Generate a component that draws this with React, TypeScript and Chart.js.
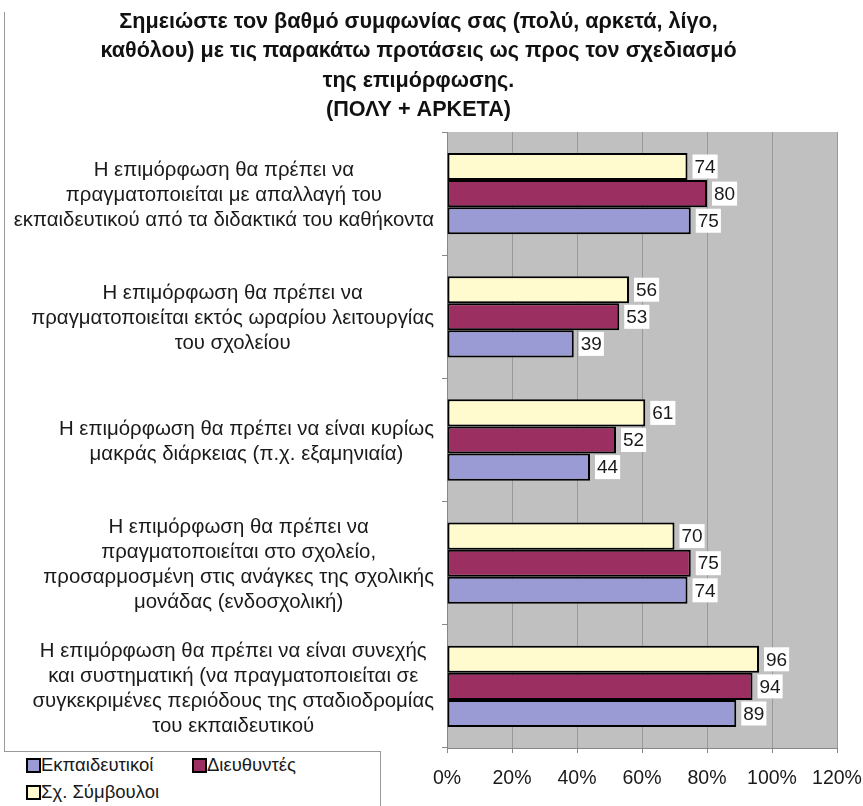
import React, { useEffect, useRef } from "react";
import { Chart, registerables } from "chart.js";

Chart.register(...registerables);

const TITLE_LINES = [
  "Σημειώστε τον βαθμό συμφωνίας σας (πολύ, αρκετά, λίγο,",
  "καθόλου) με τις παρακάτω προτάσεις ως προς τον σχεδιασμό",
  "της επιμόρφωσης.",
  "(ΠΟΛΥ + ΑΡΚΕΤΑ)",
];

const CATEGORIES: string[][] = [
  ["Η επιμόρφωση θα πρέπει να", "πραγματοποιείται με απαλλαγή του", "εκπαιδευτικού από τα διδακτικά του καθήκοντα"],
  ["Η επιμόρφωση θα πρέπει να", "πραγματοποιείται εκτός ωραρίου λειτουργίας", "του σχολείου"],
  ["Η επιμόρφωση θα πρέπει να είναι κυρίως", "μακράς διάρκειας (π.χ. εξαμηνιαία)"],
  ["Η επιμόρφωση θα πρέπει να", "πραγματοποιείται στο σχολείο,", "προσαρμοσμένη στις ανάγκες της σχολικής", "μονάδας (ενδοσχολική)"],
  ["Η επιμόρφωση θα πρέπει να είναι συνεχής", "και συστηματική (να πραγματοποιείται σε", "συγκεκριμένες περιόδους της σταδιοδρομίας", "του εκπαιδευτικού"],
];

const SERIES_NAMES = ["Εκπαιδευτικοί", "Διευθυντές", "Σχ. Σύμβουλοι"];
const TEACHERS = [75, 39, 44, 74, 89];
const PRINCIPALS = [80, 53, 52, 75, 94];
const ADVISORS = [74, 56, 61, 70, 96];
const X_TICKS = [0, 20, 40, 60, 80, 100, 120];

const COLORS = ["#9A9AD4", "#9B2F62", "#FFFBCF"];
const FONT = "'Liberation Sans', Arial, sans-serif";

const bgPlugin = {
  id: "plotBg",
  beforeDraw(chart: any) {
    const { ctx, chartArea } = chart;
    ctx.save();
    ctx.fillStyle = "#C0C0C0";
    ctx.fillRect(chartArea.left, chartArea.top, chartArea.right - chartArea.left, chartArea.bottom - chartArea.top);
    ctx.restore();
  },
};

const catLabelPlugin = {
  id: "catLabels",
  afterDraw(chart: any) {
    const { ctx } = chart;
    const y = chart.scales.y;
    ctx.save();
    ctx.font = `20.4px ${FONT}`;
    ctx.fillStyle = "#1a1a1a";
    ctx.textAlign = "center";
    ctx.textBaseline = "middle";
    const lh = 25;
    CATEGORIES.forEach((lines, i) => {
      const yc = y.getPixelForValue(i);
      const bw = Math.max(...lines.map((l) => ctx.measureText(l).width));
      const cx = 434 - bw / 2;
      const y0 = yc - ((lines.length - 1) * lh) / 2;
      lines.forEach((l, j) => ctx.fillText(l, cx, y0 + j * lh + 2));
    });
    ctx.restore();
  },
};

const valueLabelPlugin = {
  id: "valueLabels",
  afterDatasetsDraw(chart: any) {
    const { ctx } = chart;
    ctx.save();
    ctx.font = `19px ${FONT}`;
    ctx.textBaseline = "middle";
    ctx.textAlign = "left";
    chart.data.datasets.forEach((ds: any, di: number) => {
      const meta = chart.getDatasetMeta(di);
      meta.data.forEach((el: any, i: number) => {
        const txt = String(ds.data[i]);
        const w = ctx.measureText(txt).width;
        const x0 = el.x + 5;
        ctx.fillStyle = "#ffffff";
        ctx.fillRect(x0, el.y - 12, w + 4, 24);
        ctx.fillStyle = "#1a1a1a";
        ctx.fillText(txt, x0 + 2, el.y + 1);
      });
    });
    ctx.restore();
  },
};

function ChartView() {
  const ref = useRef<HTMLCanvasElement | null>(null);
  useEffect(() => {
    if (!ref.current) return;
    const chart = new Chart(ref.current, {
      type: "bar",
      data: {
        labels: CATEGORIES.map((c) => c.join(" ")),
        datasets: [
          { label: SERIES_NAMES[2], data: ADVISORS, backgroundColor: COLORS[2] },
          { label: SERIES_NAMES[1], data: PRINCIPALS, backgroundColor: COLORS[1] },
          { label: SERIES_NAMES[0], data: TEACHERS, backgroundColor: COLORS[0] },
        ].map((d) => ({
          ...d,
          borderColor: "#000000",
          borderWidth: 2,
          borderSkipped: false,
          categoryPercentage: 0.66,
          barPercentage: 1,
        })),
      },
      options: {
        indexAxis: "y",
        animation: false,
        responsive: false,
        layout: { padding: { top: 0, left: 0, right: 26, bottom: 0 } },
        plugins: {
          legend: { display: false },
          tooltip: { enabled: false },
          title: {
            display: true,
            text: TITLE_LINES,
            color: "#111111",
            font: { family: FONT, size: 21.6, weight: "bold", lineHeight: 1.366 },
            padding: { top: 7, bottom: 7 },
          },
        },
        scales: {
          x: {
            min: 0,
            max: 120,
            afterBuildTicks: (s: any) => {
              s.ticks = X_TICKS.map((v) => ({ value: v }));
            },
            afterFit: (s: any) => {
              s.height = 58;
              s.paddingLeft = 0;
              s.paddingRight = 0;
            },
            ticks: {
              callback: (v: any) => v + "%",
              color: "#1a1a1a",
              font: { family: FONT, size: 19.5 },
              padding: 14,
              maxRotation: 0,
            },
            grid: { color: "#999999", lineWidth: 1, tickLength: 5, tickColor: "#888888" },
            border: { color: "#888888", width: 1 },
          },
          y: {
            afterFit: (s: any) => {
              s.width = 447;
            },
            ticks: { display: false },
            grid: { display: true, drawOnChartArea: false, drawTicks: true, tickLength: 5, color: "#888888", offset: true },
            border: { color: "#888888", width: 1 },
          },
        },
      },
      plugins: [bgPlugin, valueLabelPlugin, catLabelPlugin],
    } as any);
    return () => chart.destroy();
  }, []);
  return <canvas ref={ref} width={863} height={806} style={{ display: "block" }} />;
}

function LegendBox() {
  const item = (i: number, left: number, top: number) => (
    <div
      key={i}
      style={{
        position: "absolute",
        left,
        top,
        display: "flex",
        alignItems: "center",
        font: `18.5px ${FONT}`,
        lineHeight: "24px",
        color: "#1a1a1a",
        whiteSpace: "nowrap",
      }}
    >
      <span
        style={{
          display: "inline-block",
          width: 11,
          height: 11,
          background: COLORS[i],
          border: "2px solid #000",
          marginRight: 0,
        }}
      />
      {SERIES_NAMES[i]}
    </div>
  );
  return (
    <div
      style={{
        position: "absolute",
        left: 4,
        top: 751,
        width: 376,
        height: 60,
        borderTop: "1px solid #999",
        borderRight: "1px solid #999",
        background: "#fff",
      }}
    >
      {item(0, 22, 1)}
      {item(1, 188, 1)}
      {item(2, 22, 28)}
    </div>
  );
}

export default function App() {
  return (
    <div style={{ position: "absolute", left: 0, top: 0, width: 863, height: 806, overflow: "hidden", background: "#fff" }}>
      <ChartView />
      <div style={{ position: "absolute", left: 4, top: 12, width: 1, height: 794, background: "#999" }} />
      <LegendBox />
    </div>
  );
}
